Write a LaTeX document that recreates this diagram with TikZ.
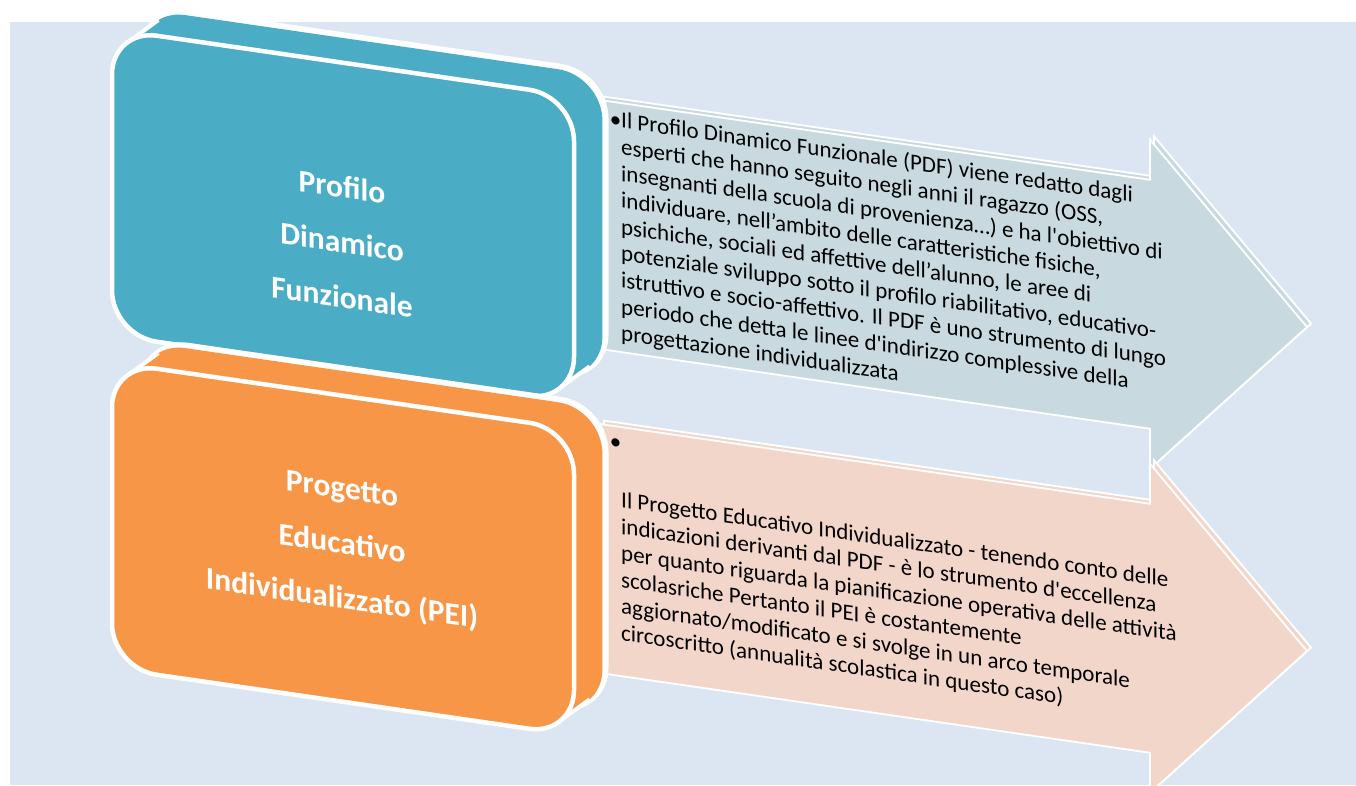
\documentclass[tikz,border=0pt]{standalone}
\usepackage{fontspec}
\newfontfamily\calibri{Carlito}
\usepackage{tikz}
\usetikzlibrary{positioning}
\definecolor{pagebg}{HTML}{DCE6F2}
\definecolor{pdfblue}{HTML}{4BACC6}
\definecolor{peiorange}{HTML}{F79646}
\definecolor{pdfarrow}{HTML}{C8DAE0}
\definecolor{peiarrow}{HTML}{F2D6CA}
\newcommand{\card}[2]{%
  \path[fill=#2,draw=white,line width=7pt,rounded corners=45pt] (143,#1-27) rectangle +(462,306);
  \foreach \i in {11,...,1}
    \fill[#2,rounded corners=45pt] (112+31*\i/12,#1-27*\i/12) rectangle +(462,306);
  \draw[white,line width=4pt] (127.4,#1+11.1) -- +(31,-27) (558.6,#1+294.9) -- +(31,-27);
  \path[fill=#2,draw=white,line width=4.5pt,rounded corners=45pt] (112,#1) rectangle +(462,306)}
\newcommand{\pointer}[2]{%
  \foreach \s in {4,0}
    \path[fill=#2,draw=white,line width=1.8pt,shift={(\s,-\s)}] (600,#1) -- (1150,#1) -- (1150,#1-40)
      -- (1307,#1+124.5) -- (1150,#1+289) -- (1150,#1+249) -- (600,#1+249) -- cycle}

\begin{document}
\begin{tikzpicture}[x=1pt,y=-1pt,
  cardtext/.style={text=white,font=\calibri\bfseries\fontsize{31.5}{55}\selectfont,align=center},
  notetext/.style={text=black,font=\calibri\fontsize{23}{26.6}\selectfont,align=left,inner sep=0pt,anchor=north west}]
  \useasboundingbox[fill=white] (0,0) rectangle (1356,785);
  \fill[pagebg] (10,22) rectangle (1356,785);
  \begin{scope}[yslant=-0.145,transform shape]
    \pointer{13}{pdfarrow};
    \pointer{337}{peiarrow};
    \card{13}{pdfblue};
    \card{346}{peiorange};
    \node[cardtext] (pdf) at (342,192) {Profilo\\Dinamico\\Funzionale};
    \node[cardtext] (pei) at (342,496) {Progetto\\Educativo\\Individualizzato (PEI)};
    \node[notetext] (pdfnote) at (621,19) {\strut\llap{•}Il Profilo Dinamico Funzionale (PDF) viene redatto dagli\\
      esperti che hanno seguito negli anni il ragazzo (OSS,\\
      insegnanti della scuola di provenienza…) e ha l'obiettivo di\\
      individuare, nell’ambito delle caratteristiche fisiche,\\
      psichiche, sociali ed affettive dell’alunno, le aree di\\
      potenziale sviluppo sotto il profilo riabilitativo, educativo-\\
      istruttivo e socio-affettivo. Il PDF è uno strumento di lungo\\
      periodo che detta le linee d'indirizzo complessive della\\
      progettazione individualizzata};
    \node[notetext] (peinote) at (621,341) {\strut\llap{•}\\[31pt]
      Il Progetto Educativo Individualizzato - tenendo conto delle\\
      indicazioni derivanti dal PDF - è lo strumento d'eccellenza\\
      per quanto riguarda la pianificazione operativa delle attività\\
      scolasriche Pertanto il PEI è costantemente\\
      aggiornato/modificato e si svolge in un arco temporale\\
      circoscritto (annualità scolastica in questo caso)};
  \end{scope}
\end{tikzpicture}
\end{document}
